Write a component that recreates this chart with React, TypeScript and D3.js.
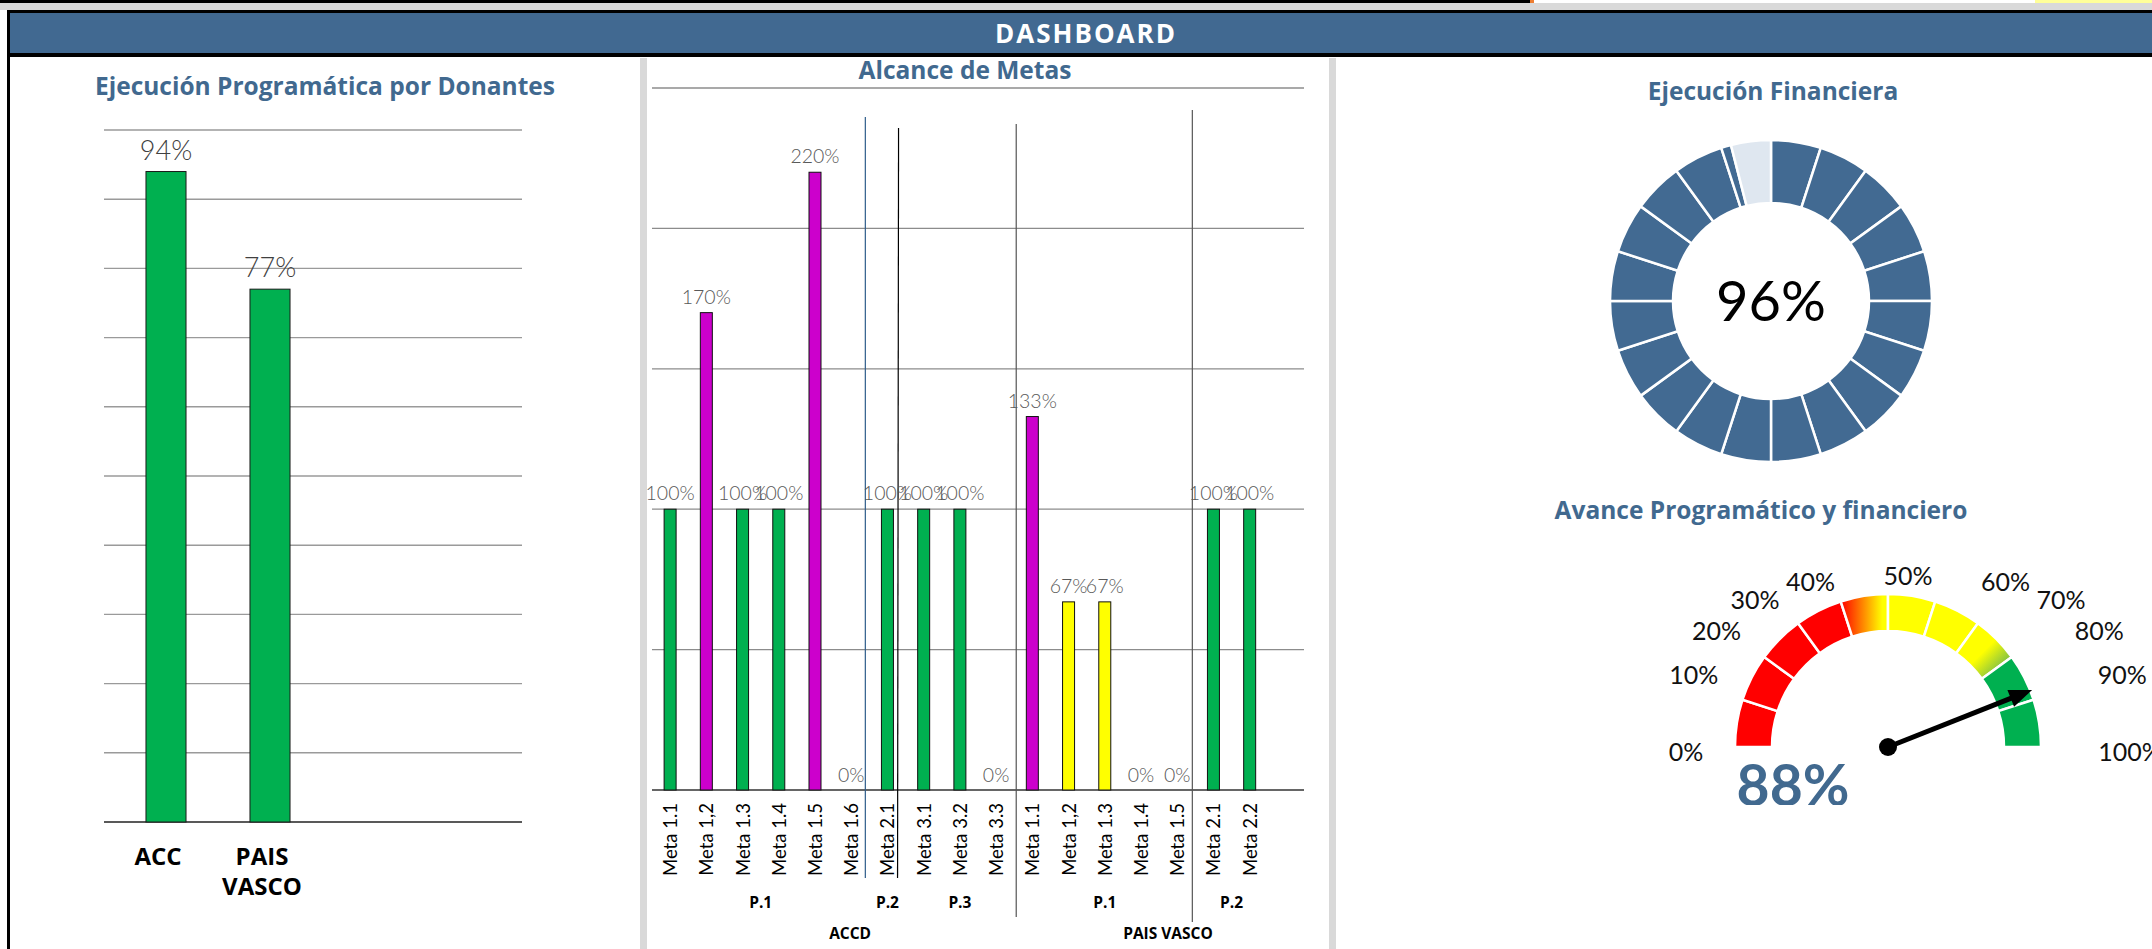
import React from "react";
import * as d3 from "d3";

const W = 2152;
const H = 949;
const FONT = "Lato, 'Open Sans', 'DejaVu Sans', sans-serif";
const TITLE_FONT = "'Open Sans', Lato, 'DejaVu Sans', sans-serif";
const TITLE_BLUE = "#41698f";
const GREEN = "#00b050";
const MAGENTA = "#cc00cc";
const YELLOW = "#ffff00";

// Ejecución Programática por Donantes
const donantes = ["ACC", "PAIS VASCO"];
const donantesPct = [0.94, 0.77];
const donantesEtiquetas = [["ACC"], ["PAIS", "VASCO"]];

// Alcance de Metas
const metas = [
  "Meta 1.1", "Meta 1,2", "Meta 1.3", "Meta 1.4", "Meta 1.5", "Meta 1.6",
  "Meta 2.1", "Meta 3.1", "Meta 3.2", "Meta 3.3",
  "Meta 1.1", "Meta 1,2", "Meta 1.3", "Meta 1.4", "Meta 1.5", "Meta 2.1", "Meta 2.2",
];
const metasPct = [1, 1.7, 1, 1, 2.2, 0, 1, 1, 1, 0, 1.33, 0.67, 0.67, 0, 0, 1, 1];
const programas = [
  { label: "P.1", from: 0, to: 5 },
  { label: "P.2", from: 6, to: 6 },
  { label: "P.3", from: 7, to: 9 },
  { label: "P.1", from: 10, to: 14 },
  { label: "P.2", from: 15, to: 16 },
];
const financiadores = [
  { label: "ACCD", from: 0, to: 9 },
  { label: "PAIS VASCO", from: 10, to: 16 },
];

// Ejecución Financiera
const ejecucionFinanciera = 96;
const pasoAnillo = 5;

// Avance Programático y financiero
const avance = 0.88;
const gaugeTicks = [0, 0.1, 0.2, 0.3, 0.4, 0.5, 0.6, 0.7, 0.8, 0.9, 1];
const gaugeColores = [
  "#ff0000", "#ff0000", "#ff0000", "#ff0000", "url(#grad45)",
  "#ffff00", "#ffff00", "url(#grad75)", "#00b050", "#00b050",
];

const pct = d3.format(".0%");

function Titulo({ x, y, children }: { x: number; y: number; children: React.ReactNode }) {
  return (
    <text x={x} y={y} textAnchor="middle" fontFamily={TITLE_FONT} fontWeight="bold"
      fontSize={24.5} fill={TITLE_BLUE}>{children}</text>
  );
}

function DonantesChart() {
  const x = d3.scaleBand<string>()
    .domain([...donantes, "", " "])
    .range([114, 530]);
  const y = d3.scaleLinear().domain([0, 1]).range([822, 130]);
  const barW = x.bandwidth() * 0.385;
  const grid = y.ticks(10);

  return (
    <g>
      <Titulo x={325} y={95}>Ejecución Programática por Donantes</Titulo>
      {grid.map((t) => (
        <line key={t} x1={104} x2={522} y1={y(t)} y2={y(t)}
          stroke={t === 0 ? "#222" : "#9a9a9a"} strokeWidth={t === 0 ? 1.6 : 1.4} />
      ))}
      {donantes.map((d, i) => {
        const cx = (x(d) as number) + x.bandwidth() / 2;
        return (
          <g key={d}>
            <rect x={cx - barW / 2} y={y(donantesPct[i])} width={barW}
              height={y(0) - y(donantesPct[i])} fill={GREEN} stroke="#1a1a1a" strokeWidth={1} />
            <text x={cx} y={y(donantesPct[i]) - 12} textAnchor="middle" fontFamily={FONT}
              fontWeight={300} fontSize={27} fill="#404040">{pct(donantesPct[i])}</text>
            {donantesEtiquetas[i].map((l, j) => (
              <text key={j} x={cx - 8} y={865 + j * 30} textAnchor="middle" fontFamily={TITLE_FONT}
                fontWeight="bold" fontSize={24} fill="#000">{l}</text>
            ))}
          </g>
        );
      })}
    </g>
  );
}

function MetasChart() {
  const x = d3.scaleBand<number>().domain(d3.range(metas.length + 1)).range([652, 1304]);
  const y = d3.scaleLinear().domain([0, 2.5]).range([790, 88]);
  const step = x.step();
  const barW = 12;
  const color = (v: number) => (v > 1 ? MAGENTA : v === 1 ? GREEN : YELLOW);
  const center = (i: number) => (x(i) as number) + step / 2;
  const spanCenter = (a: number, b: number) => ((x(a) as number) + (x(b) as number) + step) / 2;

  return (
    <g>
      <Titulo x={965} y={79}>Alcance de Metas</Titulo>
      {y.ticks(5).map((t) => (
        <line key={t} x1={652} x2={1304} y1={y(t)} y2={y(t)}
          stroke={t === 0 ? "#333" : "#8c8c8c"} strokeWidth={t === 0 ? 1.6 : 1.3} />
      ))}
      {/* separadores de grupos */}
      <line x1={(x(6) as number) - 4} x2={(x(6) as number) - 4} y1={117} y2={878} stroke="#2e5c8a" strokeWidth={1.2} />
      <line x1={(x(7) as number) - 7} x2={(x(7) as number) - 8} y1={128} y2={878} stroke="#000" strokeWidth={1.2} />
      <line x1={(x(10) as number) + 2} x2={(x(10) as number) + 2} y1={124} y2={917} stroke="#555" strokeWidth={1.2} />
      <line x1={(x(15) as number) - 3} x2={(x(15) as number) - 3} y1={110} y2={922} stroke="#555" strokeWidth={1.2} />
      {metasPct.map((v, i) => (
        <g key={i}>
          {v > 0 && (
            <rect x={center(i) - barW / 2} y={y(v)} width={barW} height={y(0) - y(v)}
              fill={color(v)} stroke="#111" strokeWidth={1} />
          )}
          <text x={center(i)} y={y(v) - (v > 0 ? 9 : 8)} textAnchor="middle" fontFamily={FONT}
            fontWeight={300} fontSize={19.5} fill="#595959">{pct(v)}</text>
          <text transform={`translate(${center(i)},803) rotate(-90)`} textAnchor="end"
            dominantBaseline="central" fontFamily={FONT} fontSize={18.5} fill="#000">{metas[i]}</text>
        </g>
      ))}
      {programas.map((p, i) => (
        <text key={i} x={spanCenter(p.from, p.to)} y={908} textAnchor="middle" fontFamily={TITLE_FONT}
          fontWeight="bold" fontSize={15.5} fill="#000">{p.label}</text>
      ))}
      {financiadores.map((f, i) => (
        <text key={i} x={spanCenter(f.from, f.to) + (i === 0 ? 17 : 27)} y={939} textAnchor="middle"
          fontFamily={TITLE_FONT} fontWeight="bold" fontSize={15.5} fill="#000">{f.label}</text>
      ))}
    </g>
  );
}

function DonutFinanciera() {
  const cx = 1771;
  const cy = 301;
  const a = d3.scaleLinear().domain([0, 100]).range([0, 2 * Math.PI]);
  const arc = d3.arc<any>().innerRadius(98).outerRadius(161);
  const segs = d3.range(0, 100, pasoAnillo);
  const pieces: { s: number; e: number; fill: string }[] = [];
  segs.forEach((s) => {
    const e = s + pasoAnillo;
    if (ejecucionFinanciera > s) pieces.push({ s, e: Math.min(e, ejecucionFinanciera), fill: "#426a92" });
    if (ejecucionFinanciera < e) pieces.push({ s: Math.max(s, ejecucionFinanciera), e, fill: "#dfe7f0" });
  });
  return (
    <g>
      <Titulo x={1773} y={100}>Ejecución Financiera</Titulo>
      <g transform={`translate(${cx},${cy})`}>
        {pieces.map((p, i) => (
          <path key={i} d={arc({ startAngle: a(p.s), endAngle: a(p.e) }) as string}
            fill={p.fill} stroke="#fff" strokeWidth={2.5} />
        ))}
        <text y={20} textAnchor="middle" fontFamily={FONT} fontSize={56} fill="#000">
          {ejecucionFinanciera}%
        </text>
      </g>
    </g>
  );
}

function Gauge() {
  const cx = 1888;
  const cy = 747;
  const ang = d3.scaleLinear().domain([0, 1]).range([-Math.PI / 2, Math.PI / 2]);
  const arc = d3.arc<any>().innerRadius(116).outerRadius(153);
  const t = ang(avance);
  const dir = [Math.sin(t), -Math.cos(t)];
  const perp = [-dir[1], dir[0]];
  const tip = 155;
  const base = 132;
  const head = [
    [dir[0] * tip, dir[1] * tip],
    [dir[0] * base + perp[0] * 9, dir[1] * base + perp[1] * 9],
    [dir[0] * base - perp[0] * 9, dir[1] * base - perp[1] * 9],
  ];
  // etiquetas sobre una superelipse alrededor del medidor
  const sp = (v: number) => Math.sign(v) * Math.pow(Math.abs(v), 0.7);
  return (
    <g>
      <defs>
        <linearGradient id="grad45" x1="0" y1="0" x2="1" y2="0">
          <stop offset="0" stopColor="#ff0000" />
          <stop offset="0.5" stopColor="#ff9000" />
          <stop offset="0.88" stopColor="#ffff00" />
        </linearGradient>
        <linearGradient id="grad75" x1="0" y1="0" x2="1" y2="1">
          <stop offset="0" stopColor="#ffff00" />
          <stop offset="0.5" stopColor="#ffff00" />
          <stop offset="0.78" stopColor="#8cc63f" />
          <stop offset="1" stopColor="#00b050" />
        </linearGradient>
        <clipPath id="clip88">
          <rect x={1700} y={740} width={200} height={65} />
        </clipPath>
      </defs>
      <Titulo x={1761} y={519}>Avance Programático y financiero</Titulo>
      <g transform={`translate(${cx},${cy})`}>
        {gaugeColores.map((c, i) => (
          <path key={i} d={arc({ startAngle: ang(gaugeTicks[i]), endAngle: ang(gaugeTicks[i + 1]) }) as string}
            fill={c} stroke="#fff" strokeWidth={2.5} />
        ))}
        {gaugeTicks.map((v) => {
          const th = Math.PI * (1 - v);
          return (
            <text key={v} x={20 + 222 * sp(Math.cos(th))} y={4 - 176 * sp(Math.sin(th))} textAnchor="middle"
              dominantBaseline="central" fontFamily={FONT} fontSize={25} fill="#111">{pct(v)}</text>
          );
        })}
        <line x1={0} y1={0} x2={dir[0] * (base + 2)} y2={dir[1] * (base + 2)} stroke="#000" strokeWidth={5} />
        <polygon points={head.map((p) => p.join(",")).join(" ")} fill="#000" />
        <circle r={9} fill="#000" />
      </g>
      <text x={1793} y={806} textAnchor="middle" fontFamily={FONT} fontWeight="bold" fontSize={57}
        fill={TITLE_BLUE} clipPath="url(#clip88)">{pct(avance)}</text>
    </g>
  );
}

export default function App() {
  return (
    <svg width={W} height={H} style={{ position: "absolute", left: 0, top: 0, display: "block", background: "#fff" }}>
      <rect width={W} height={H} fill="#fff" />
      {/* marco superior */}
      <rect x={0} y={0} width={1530} height={3} fill="#000" />
      <rect x={1530} y={0} width={4} height={3} fill="#ed7d31" />
      <rect x={2035} y={0} width={117} height={3} fill="#ffff99" />
      <rect x={0} y={3} width={W} height={7} fill="#d9d9d9" />
      <rect x={7} y={10} width={W - 7} height={47} fill="#000" />
      <rect x={10} y={13} width={W - 10} height={40} fill="#416991" />
      <rect x={7} y={10} width={3} height={H - 10} fill="#000" />
      <text x={1086} y={43} textAnchor="middle" fontFamily={TITLE_FONT} fontWeight="bold" fontSize={26}
        letterSpacing={2} fill="#fff">
        DASHBOARD
      </text>
      {/* separadores de paneles */}
      <rect x={640} y={58} width={7} height={H - 58} fill="#d9d9d9" />
      <rect x={1329} y={58} width={7} height={H - 58} fill="#d9d9d9" />
      <DonantesChart />
      <MetasChart />
      <DonutFinanciera />
      <Gauge />
    </svg>
  );
}
